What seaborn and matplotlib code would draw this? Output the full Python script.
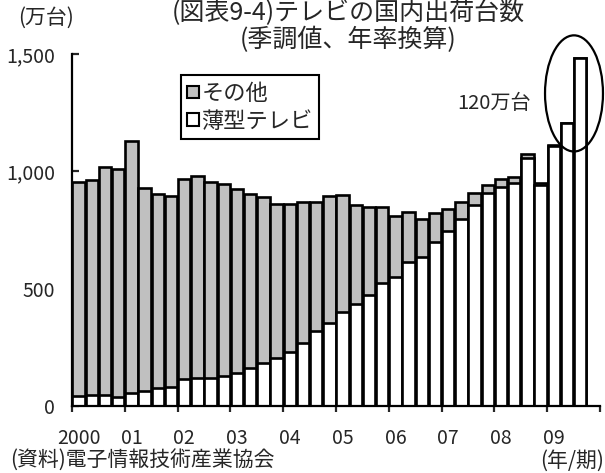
import numpy as np
import pandas as pd
import matplotlib
matplotlib.use("Agg")
import matplotlib.pyplot as plt
import seaborn as sns
from matplotlib.patches import Patch, Ellipse
from matplotlib.ticker import FuncFormatter

# Quarterly domestic TV shipments (seasonally adjusted, annualised), 10k units
year_labels = ["2000", "01", "02", "03", "04", "05", "06", "07", "08", "09"]
quarters_per_year = [4, 4, 4, 4, 4, 4, 4, 4, 4, 3]

flat_tv = [43, 46, 46, 40, 57, 64, 75, 81,
           117, 118, 121, 127, 142, 164, 185, 205,
           228, 270, 318, 355, 400, 433, 474, 523,
           548, 615, 635, 698, 745, 797, 858, 906,
           935, 949, 1058, 940, 1110, 1205, 1483]
other = [910, 915, 972, 970, 1074, 864, 829, 816,
         851, 864, 835, 819, 783, 740, 705, 656,
         633, 600, 552, 539, 501, 425, 372, 326,
         262, 211, 164, 124, 94, 74, 50, 36,
         33, 26, 14, 11, 4, 2, 2]

y_ticks = [0, 500, 1000, 1500]
callout_text = "120万台"

GRAY = "#C0C0C0"

periods = [f"{y}Q{q + 1}" for y, n in zip(year_labels, quarters_per_year) for q in range(n)]
df = pd.DataFrame({"period": periods, "flat": flat_tv, "other": other})
df["total"] = df["flat"] + df["other"]

sns.set_style("ticks")
plt.rcParams["font.family"] = ["Noto Sans CJK JP", "DejaVu Sans"]

fig = plt.figure(figsize=(6.05, 4.73), dpi=100)
ax = fig.add_axes([72 / 605, 1 - 406 / 473, 528 / 605, 352 / 473])

bar_kw = dict(edgecolor="black", linewidth=1.9, width=0.94, saturation=1,
              errorbar=None, ax=ax)
# stacked: full height in grey, flat-panel share overdrawn in white
sns.barplot(data=df, x="period", y="total", color=GRAY, **bar_kw)
sns.barplot(data=df, x="period", y="flat", color="white", **bar_kw)

n_slots = 4 * len(year_labels)
ax.set_xlim(-0.5, n_slots - 0.5)
ax.set_ylim(0, 1500)

# year boundaries as ticks, year labels under each year's first quarter
starts = np.cumsum([0] + quarters_per_year[:-1])
ax.set_xticks(np.arange(-0.5, n_slots, 4), labels=[])
ax.set_xticks(starts, labels=year_labels, minor=True)
ax.tick_params(axis="x", which="major", direction="out", length=4.5, width=1.6)
ax.tick_params(axis="x", which="minor", length=0, pad=16, labelsize=14)

ax.set_yticks(y_ticks)
ax.yaxis.set_major_formatter(FuncFormatter(lambda v, p: f"{int(v):,}"))
ax.tick_params(axis="y", direction="in", length=5, width=1.6, pad=12, labelsize=14)

ax.set_xlabel("")
ax.set_ylabel("")
sns.despine(ax=ax)
for s in ("left", "bottom"):
    ax.spines[s].set_linewidth(1.6)
    ax.spines[s].set_color("black")

handles = [Patch(facecolor=GRAY, edgecolor="black", linewidth=1.5, label="その他"),
           Patch(facecolor="white", edgecolor="black", linewidth=1.5, label="薄型テレビ")]
leg = ax.legend(handles=handles, loc="upper left", bbox_to_anchor=(0.206, 0.94),
                borderaxespad=0, fontsize=16, handlelength=0.5, handleheight=0.5,
                handletextpad=0.12, labelspacing=0.22, borderpad=0.3,
                fancybox=False, framealpha=1, edgecolor="black")
leg.get_frame().set_linewidth(1.5)

# highlight of the latest quarters
ax.text(28.67, 1289, callout_text, ha="left", va="center", fontsize=14.5)
ax.add_patch(Ellipse((37.53, 1332), 4.39, 495, fill=False, edgecolor="black",
                     linewidth=1.6, clip_on=False))

fig.text(348 / 605, 1.0, "(図表9-4)テレビの国内出荷台数\n(季調値、年率換算)",
         ha="center", va="top", ma="center", fontsize=18, linespacing=1.05)
fig.text(18 / 605, 1 - 17.5 / 473, "(万台)", ha="left", va="center", fontsize=15)
fig.text(10 / 605, 1 / 473, "(資料)電子情報技術産業協会",
         ha="left", va="bottom", fontsize=15)
fig.text(604 / 605, 1 / 473, "(年/期)", ha="right", va="bottom", fontsize=15)

fig.savefig("out.png", dpi=100)
